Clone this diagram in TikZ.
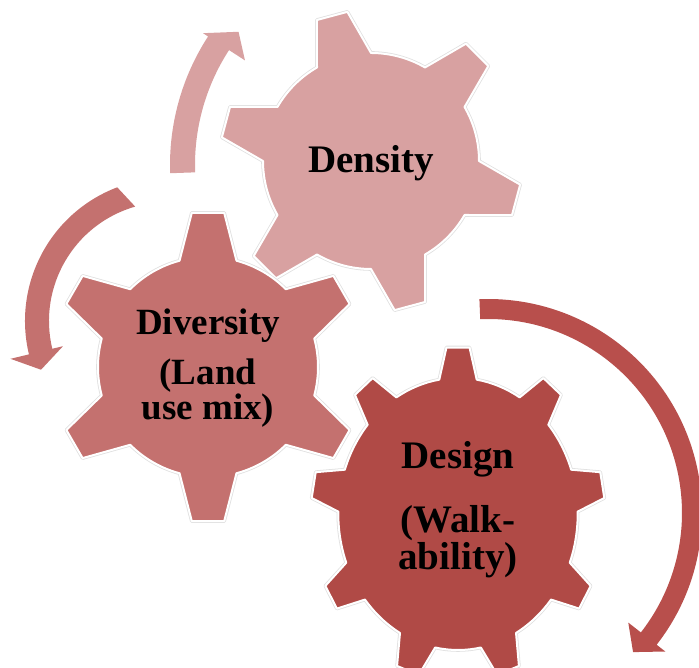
\documentclass[tikz,border=0pt]{standalone}
\usepackage{fontspec}
\setmainfont{Liberation Serif}
\usetikzlibrary{calc}

\definecolor{densityfill}{HTML}{D8A1A1}
\definecolor{diversityfill}{HTML}{C4716F}
\definecolor{designfill}{HTML}{B04A46}
\definecolor{designarrow}{HTML}{B84F4C}

\begin{document}
\begin{tikzpicture}
  [
  x=1pt, y=1pt,
  font=\fontsize{39}{35}\selectfont\bfseries,
  gear/.style={draw=white, line width=2pt, line join=round,
    preaction={draw=black!12, line width=3.6pt, line join=round}},
  caption/.style={align=center, inner sep=0pt, text=black}
  ]

\useasboundingbox (0,0) rectangle (699,668);

% round arrows
\begin{scope}[shift={(406,503)}]
\fill[densityfill] (182:211) arc[start angle=182, end angle=147, radius=211]
  -- (147:192) -- (141.5:214) -- (147:242) -- (147:236)
  arc[start angle=147, end angle=182, radius=236] -- cycle;
\end{scope}

\begin{scope}[shift={(168,347)}]
\fill[diversityfill] (106:119) arc[start angle=106, end angle=193.5, radius=119]
  -- (193.5:108) -- (201:136) -- (193.5:162) -- (193.5:143)
  arc[start angle=193.5, end angle=110.8, radius=143] -- cycle;
\end{scope}

\begin{scope}[shift={(488,155)}]
\fill[designarrow] (92.3:194) arc[start angle=92.3, end angle=-38, radius=194]
  -- (-38:178) -- (-43.8:201) -- (-38:225) -- (-38:214)
  arc[start angle=-38, end angle=92.3, radius=214] -- cycle;
\end{scope}

% gears
\begin{scope}[shift={(371,507)}]
\draw[gear, fill=densityfill] (-30:108)
  \foreach \a in {-15,45,...,285} {
    -- (\a-6:151) -- (\a+6:151) -- (\a+15:108)
    arc[start angle=\a+15, end angle=\a+45, radius=108]
  } -- cycle;
\node[caption] (density) at (0,-2) {Density};
\end{scope}

\begin{scope}[shift={(208,301)}]
\draw[gear, fill=diversityfill] (15:110)
  \foreach \a in {30,90,...,330} {
    -- (\a-6:155) -- (\a+6:155) -- (\a+15:110)
    arc[start angle=\a+15, end angle=\a+45, radius=110]
  } -- cycle;
\node[caption, font=\fontsize{37}{35}\selectfont\bfseries] (diversity) at (0,-1.5)
  {Diversity\\[15pt](Land\\use mix)};
\end{scope}

\begin{scope}[shift={(458,154)}]
\begin{scope}[xscale=0.88]
\draw[gear, fill=designfill] (1:136)
  \foreach \a in {10,50,...,330} {
    -- (\a-4.5:167) -- (\a+4.5:167) -- (\a+9:136)
    arc[start angle=\a+9, end angle=\a+31, radius=136]
  } -- cycle;
\end{scope}
\node[caption, font=\fontsize{39}{32}\selectfont\bfseries] (design) at (0,4.5)
  {Design\\[28pt](Walk-\\ability)};
\end{scope}

\end{tikzpicture}
\end{document}
